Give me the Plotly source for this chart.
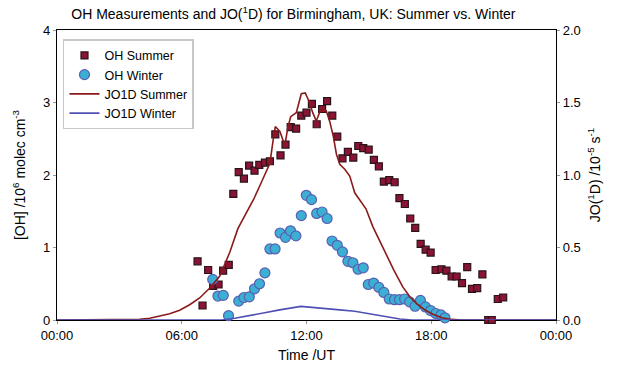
import plotly.graph_objects as go

# OH Summer (hours UT, 10^6 molec cm^-3)
oh_summer_t = [6.76, 7.00, 7.27, 7.51, 7.77, 7.99, 8.26, 8.48, 8.74, 8.99, 9.24, 9.50, 9.73, 10.00,
               10.24, 10.50, 10.75, 10.99, 11.24, 11.50, 11.75, 12.00, 12.26, 12.49, 12.75, 12.99,
               13.24, 13.48, 13.73, 13.99, 14.25, 14.49, 14.73, 14.99, 15.24, 15.48, 15.72, 15.98,
               16.24, 16.47, 16.73, 16.99, 17.23, 17.49, 17.73, 17.97, 18.21, 18.49, 18.73, 18.98,
               19.22, 19.48, 19.73, 19.96, 20.21, 20.46, 20.74, 20.91, 21.20, 21.46]
oh_summer = [0.81, 0.20, 0.69, 0.47, 0.49, 0.68, 0.76, 1.74, 2.04, 1.95, 2.13, 2.06, 2.14, 2.17,
             2.19, 2.56, 2.27, 2.42, 2.66, 2.64, 2.82, 2.86, 2.98, 2.70, 2.91, 3.02,
             2.82, 2.53, 2.23, 2.32, 2.24, 2.40, 2.37, 2.35, 2.21, 2.12, 1.91, 1.93,
             1.90, 1.68, 1.60, 1.40, 1.27, 1.05, 0.97, 0.93, 0.69, 0.70, 0.68, 0.60,
             0.60, 0.51, 0.73, 0.43, 0.44, 0.63, 0.00, 0.00, 0.29, 0.31]

# OH Winter
oh_winter_t = [7.49, 7.74, 8.00, 8.25, 8.74, 8.99, 9.25, 9.50, 9.74, 10.00, 10.24, 10.49, 10.73,
               10.99, 11.23, 11.49, 11.75, 11.99, 12.24, 12.49, 12.75, 12.99, 13.23, 13.48, 13.73,
               13.99, 14.23, 14.48, 14.73, 14.97, 15.23, 15.48, 15.72, 15.98, 16.23, 16.47, 16.72,
               16.96, 17.22, 17.48, 17.72, 17.97, 18.22, 18.47, 18.66]
oh_winter = [0.56, 0.33, 0.34, 0.06, 0.26, 0.31, 0.32, 0.43, 0.50, 0.65, 0.98, 0.98, 1.20,
             1.14, 1.23, 1.16, 1.44, 1.72, 1.66, 1.47, 1.49, 1.40, 1.09, 1.03, 0.94,
             0.81, 0.79, 0.70, 0.72, 0.49, 0.51, 0.45, 0.38, 0.29, 0.28, 0.28, 0.29,
             0.25, 0.19, 0.27, 0.18, 0.13, 0.09, 0.07, 0.03]

# JO(1D) Summer (10^-5 s^-1)
jo_summer_t = [0.0, 3.50, 3.98, 4.46, 4.94, 5.42, 5.90, 6.38, 6.86, 7.35, 7.83, 8.31, 8.70, 9.08,
               9.46, 9.75, 10.04, 10.24, 10.38, 10.50, 10.72, 10.96, 11.10, 11.24, 11.51, 11.75,
               11.94, 12.11, 12.30, 12.47, 12.71, 12.95, 13.12, 13.29, 13.44, 13.60, 13.84, 14.08,
               14.32, 14.56, 14.86, 15.19, 15.53, 15.87, 16.20, 16.63, 16.98, 17.31, 17.69, 18.08,
               18.51, 18.99, 19.48, 24.0]
jo_summer = [0.0, 0.0, 0.005, 0.012, 0.026, 0.043, 0.067, 0.105, 0.152, 0.221, 0.303, 0.467, 0.630, 0.733,
             0.833, 0.924, 1.020, 1.081, 1.225, 1.334, 1.300, 1.204, 1.327, 1.402, 1.430, 1.560,
             1.566, 1.512, 1.430, 1.372, 1.460, 1.443, 1.368, 1.266, 1.143, 1.074, 1.040, 0.993,
             0.877, 0.829, 0.767, 0.644, 0.542, 0.439, 0.344, 0.228, 0.159, 0.111, 0.070, 0.040,
             0.016, 0.004, 0.0, 0.0]

# JO(1D) Winter
jo_winter_t = [0.0, 7.93, 8.55, 9.27, 9.99, 10.71, 11.19, 11.73, 12.26, 12.88, 13.60, 14.32, 15.05,
               15.77, 16.49, 17.07, 24.0]
jo_winter = [0.0, 0.0, 0.012, 0.029, 0.050, 0.070, 0.081, 0.094, 0.087, 0.081, 0.070, 0.060, 0.043,
             0.023, 0.007, 0.0, 0.0]

x_tickvals = [0, 6, 12, 18, 24]
x_ticktext = ["00:00", "06:00", "12:00", "18:00", "00:00"]
y_left_ticks = [0, 1, 2, 3, 4]
y_right_ticks = [0.0, 0.5, 1.0, 1.5, 2.0]

FONT = "Arial, Liberation Sans, sans-serif"

fig = go.Figure()
fig.add_trace(go.Scatter(
    x=oh_summer_t, y=oh_summer, mode="markers", name="OH Summer", cliponaxis=False,
    marker=dict(symbol="square", size=7, color="#8a1436", line=dict(color="#2a1418", width=1.2))))
fig.add_trace(go.Scatter(
    x=oh_winter_t, y=oh_winter, mode="markers", name="OH Winter", cliponaxis=False,
    marker=dict(symbol="circle", size=10, color="#3cb0d4", line=dict(color="#5a5fb0", width=1.2))))
fig.add_trace(go.Scatter(
    x=jo_summer_t, y=jo_summer, mode="lines", name="JO1D Summer", yaxis="y2", cliponaxis=False,
    line=dict(color="#8b1a1a", width=1.6)))
fig.add_trace(go.Scatter(
    x=jo_winter_t, y=jo_winter, mode="lines", name="JO1D Winter", yaxis="y2", cliponaxis=False,
    line=dict(color="#5050b4", width=1.6)))

fig.update_layout(
    width=619, height=373,
    margin=dict(l=57, r=63, t=30, b=51),
    paper_bgcolor="white", plot_bgcolor="white",
    font=dict(family=FONT, size=13, color="black"),
    showlegend=True,
    title=dict(text="OH Measurements and JO(<sup>1</sup>D) for Birmingham, UK: Summer vs. Winter",
               x=0.474, xanchor="center", y=0.962, yanchor="middle",
               font=dict(family=FONT, size=14, color="black")),
    legend=dict(x=0.012, y=0.968, xanchor="left", yanchor="top",
                bordercolor="#c8c8c8", borderwidth=1.5, bgcolor="white",
                font=dict(family=FONT, size=12.5, color="black"),
                tracegroupgap=2, itemwidth=30),
    xaxis=dict(range=[0, 24], tickvals=x_tickvals, ticktext=x_ticktext, layer="below traces",
               showgrid=False, zeroline=False, showline=True, linecolor="black", linewidth=1.2,
               mirror=True, ticks="outside", ticklen=3, tickcolor="#999999",
               title=dict(text="Time /UT", standoff=8, font=dict(size=14))),
    yaxis=dict(range=[0, 4], tickvals=y_left_ticks, showgrid=False, zeroline=False,
               showline=True, linecolor="black", linewidth=1.2, mirror=True,
               ticks="outside", ticklen=3, tickcolor="#999999",
               title=dict(text="[OH] /10<sup>6</sup> molec cm<sup>-3</sup>", standoff=14,
                          font=dict(size=14))),
    yaxis2=dict(range=[0, 2], tickvals=y_right_ticks, tickformat=".1f", overlaying="y",
                side="right", showgrid=False, zeroline=False, showline=True,
                linecolor="black", linewidth=1.2, ticks="outside", ticklen=3, tickcolor="#999999",
                title=dict(text="JO(<sup>1</sup>D) /10<sup>-5</sup> s<sup>-1</sup>", standoff=10,
                           font=dict(size=14))),
)

fig.write_html("out.html")
